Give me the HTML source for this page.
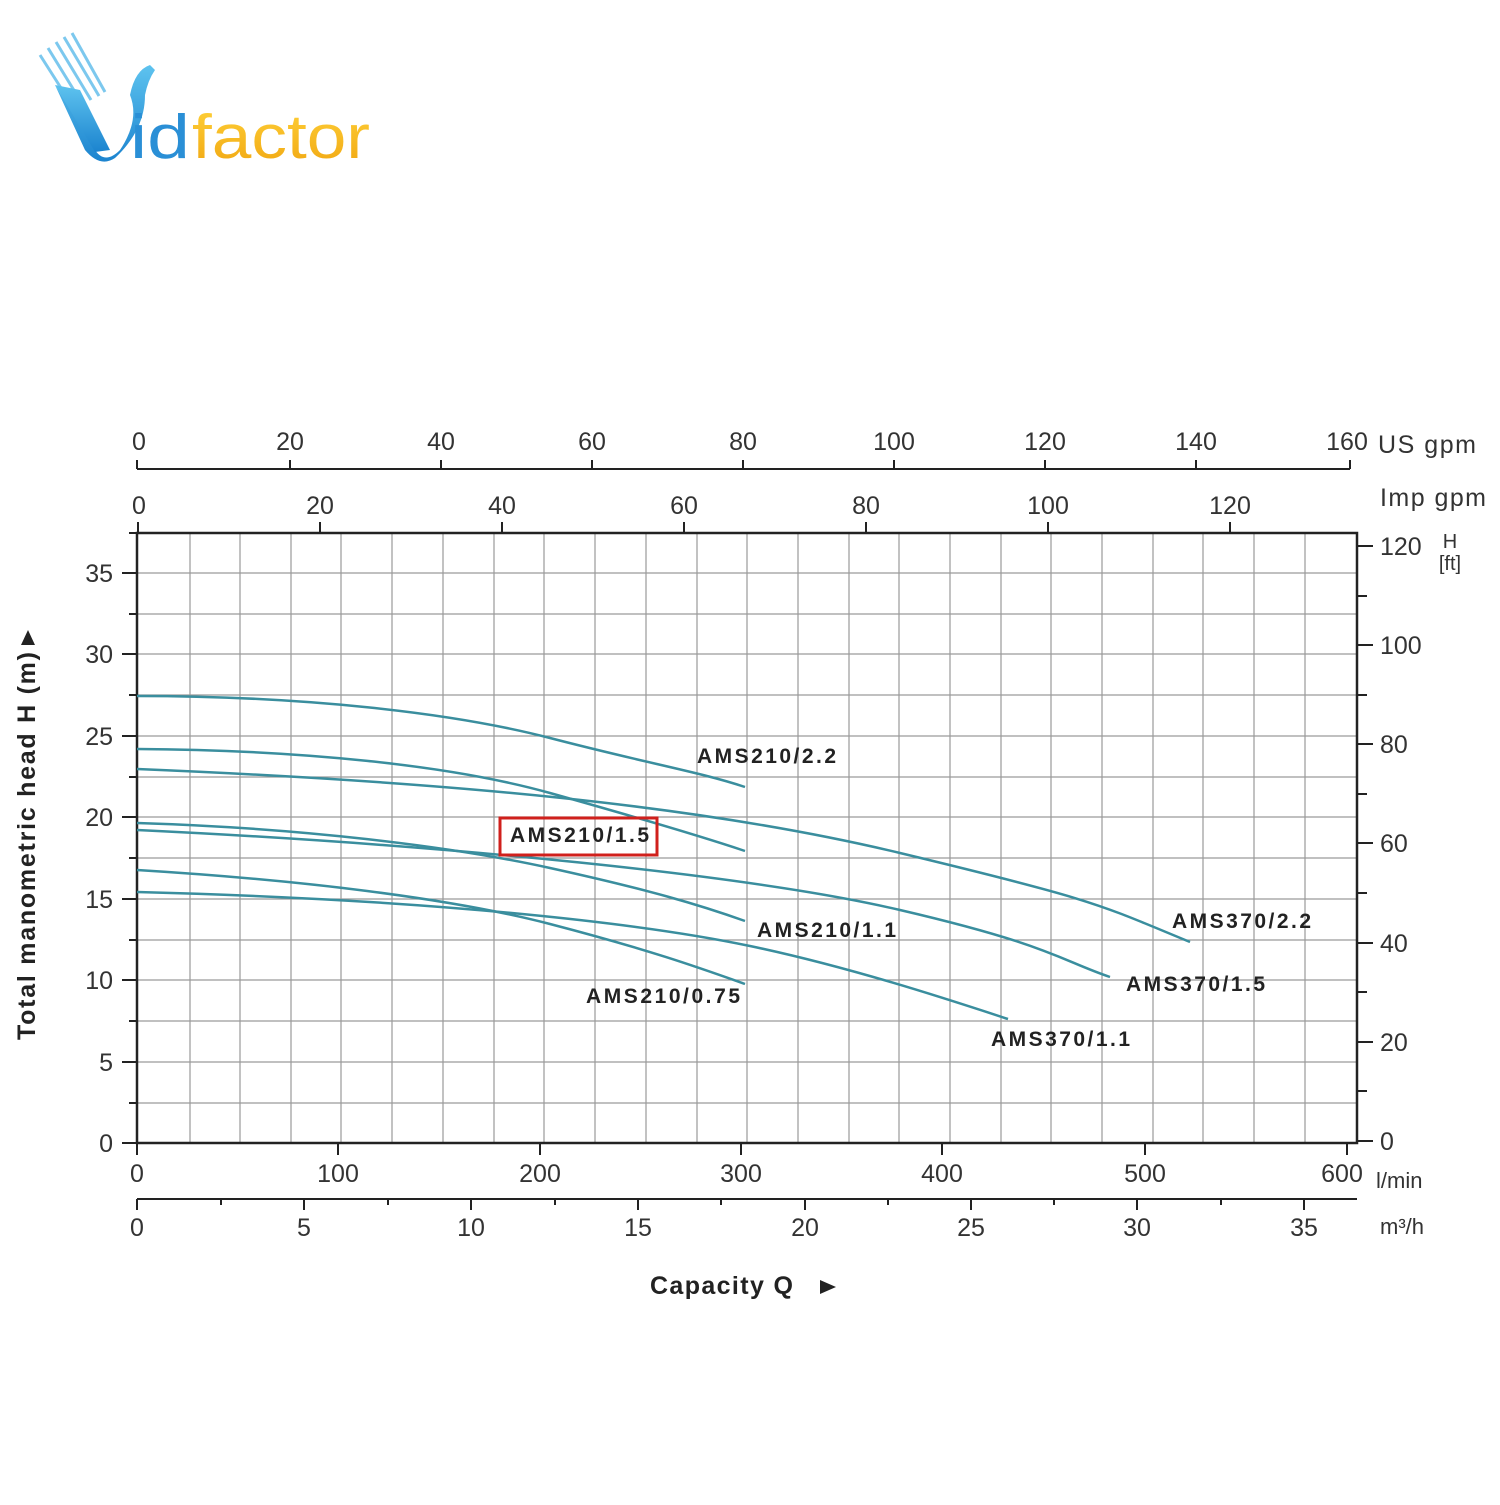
<!DOCTYPE html>
<html><head><meta charset="utf-8"><style>
html,body{margin:0;padding:0;background:#fff;}
svg text{font-family:"Liberation Sans",sans-serif;}
</style></head><body>
<svg width="1500" height="1500" viewBox="0 0 1500 1500" xmlns="http://www.w3.org/2000/svg">
<rect width="1500" height="1500" fill="#fff"/>
<defs><linearGradient id="bl" x1="0" y1="0" x2="0" y2="1"><stop offset="0" stop-color="#5ec3ef"/><stop offset="1" stop-color="#1c84cf"/></linearGradient>
<linearGradient id="yl" x1="0" y1="0" x2="0" y2="1"><stop offset="0" stop-color="#ffd23a"/><stop offset="1" stop-color="#f0a510"/></linearGradient></defs>
<g stroke="#7cc8ee" stroke-width="3">
<line x1="40" y1="55" x2="75" y2="110"/><line x1="48" y1="48" x2="83" y2="105"/><line x1="56" y1="42" x2="91" y2="100"/><line x1="64" y1="37" x2="99" y2="96"/><line x1="72" y1="33" x2="105" y2="92"/>
</g>
<path d="M55 85 L95 150 Q105 165 120 150 Q140 120 130 95 Q135 70 150 65 L155 70 Q148 80 145 95 Q145 130 115 158 Q100 168 85 150 Z" fill="url(#bl)"/>
<path d="M55 85 L80 90 L110 150 L95 152 Z" fill="url(#bl)"/>
<text x="130" y="158" font-size="62" fill="#2a8fd6" textLength="60" lengthAdjust="spacingAndGlyphs">id</text>
<text x="192" y="158" font-size="62" fill="url(#yl)" textLength="178" lengthAdjust="spacingAndGlyphs">factor</text>
<g stroke="#9a9a9a" stroke-width="1.2">
<path d="M190 533V1143M240 533V1143M291 533V1143M341 533V1143M392 533V1143M443 533V1143M494 533V1143M544 533V1143M595 533V1143M646 533V1143M697 533V1143M747 533V1143M798 533V1143M849 533V1143M899 533V1143M950 533V1143M1001 533V1143M1051 533V1143M1102 533V1143M1153 533V1143M1203 533V1143M1254 533V1143M1305 533V1143"/>
<path d="M137 573H1357M137 614H1357M137 654H1357M137 695H1357M137 736H1357M137 777H1357M137 817H1357M137 858H1357M137 899H1357M137 940H1357M137 980H1357M137 1021H1357M137 1062H1357M137 1103H1357"/>
</g>
<rect x="137" y="533" width="1220" height="610" fill="none" stroke="#222" stroke-width="2.5"/>
<g stroke="#222" stroke-width="2">
<path d="M122 573H137M122 654H137M122 736H137M122 817H137M122 899H137M122 980H137M122 1062H137M122 1143H137"/>
<path d="M129 533H137M129 614H137M129 695H137M129 777H137M129 858H137M129 940H137M129 1021H137M129 1103H137"/>
<path d="M1357 546H1373M1357 645H1373M1357 744H1373M1357 843H1373M1357 943H1373M1357 1042H1373M1357 1141H1373"/>
<path d="M1357 596H1367M1357 695H1367M1357 794H1367M1357 893H1367M1357 992H1367M1357 1091H1367"/>
<path d="M137 1143V1155M338 1143V1155M540 1143V1155M741 1143V1155M942 1143V1155M1145 1143V1155M1347 1143V1155"/>
<path d="M138 533V522M320 533V522M502 533V522M684 533V522M866 533V522M1048 533V522M1230 533V522"/>
<path d="M137 469H1350M137 469V460M1350 469V460M290 469V460M441 469V460M592 469V460M743 469V460M894 469V460M1045 469V460M1196 469V460"/>
<path d="M137 1199H1357M137 1199V1210M304 1199V1210M471 1199V1210M638 1199V1210M805 1199V1210M971 1199V1210M1137 1199V1210M1304 1199V1210M221 1199V1205M388 1199V1205M555 1199V1205M721 1199V1205M888 1199V1205M1054 1199V1205M1221 1199V1205"/>
</g>
<g font-size="25" fill="#333">
<g text-anchor="end"><text x="113" y="582">35</text><text x="113" y="663">30</text><text x="113" y="745">25</text><text x="113" y="826">20</text><text x="113" y="908">15</text><text x="113" y="989">10</text><text x="113" y="1071">5</text><text x="113" y="1152">0</text></g>
<text x="1380" y="555">120</text><text x="1380" y="654">100</text><text x="1380" y="753">80</text><text x="1380" y="852">60</text><text x="1380" y="952">40</text><text x="1380" y="1051">20</text><text x="1380" y="1150">0</text>
<g text-anchor="middle">
<text x="137" y="1182">0</text><text x="338" y="1182">100</text><text x="540" y="1182">200</text><text x="741" y="1182">300</text><text x="942" y="1182">400</text><text x="1145" y="1182">500</text><text x="1342" y="1182">600</text>
<text x="137" y="1236">0</text><text x="304" y="1236">5</text><text x="471" y="1236">10</text><text x="638" y="1236">15</text><text x="805" y="1236">20</text><text x="971" y="1236">25</text><text x="1137" y="1236">30</text><text x="1304" y="1236">35</text>
<text x="139" y="514">0</text><text x="320" y="514">20</text><text x="502" y="514">40</text><text x="684" y="514">60</text><text x="866" y="514">80</text><text x="1048" y="514">100</text><text x="1230" y="514">120</text>
<text x="139" y="450">0</text><text x="290" y="450">20</text><text x="441" y="450">40</text><text x="592" y="450">60</text><text x="743" y="450">80</text><text x="894" y="450">100</text><text x="1045" y="450">120</text><text x="1196" y="450">140</text><text x="1347" y="450">160</text>
</g>
<text x="1378" y="453" textLength="98">US gpm</text>
<text x="1380" y="506" textLength="106">Imp gpm</text>
<text x="1376" y="1188" font-size="22">l/min</text>
<text x="1380" y="1234" font-size="22">m³/h</text>
<text x="1450" y="548" font-size="20" text-anchor="middle">H</text>
<text x="1450" y="570" font-size="20" text-anchor="middle">[ft]</text>
</g>
<text x="650" y="1294" font-size="25" font-weight="bold" fill="#222" textLength="143">Capacity Q</text>
<path d="M820 1280 L836 1287 L820 1294 Z" fill="#222"/>
<text transform="translate(35,1040) rotate(-90)" font-size="25" font-weight="bold" fill="#222" textLength="388">Total manometric head H (m)</text>
<path d="M21 645 L28 630 L35 645 Z" fill="#222"/>
<g fill="none" stroke="#3a8e9e" stroke-width="2.5">
<path d="M137 696 C300 696 450 712 550 738 S700 772 745 787"/>
<path d="M137 749 C300 750 450 765 550 793 S700 836 745 851"/>
<path d="M137 769 C450 782 700 805 900 853 S1100 905 1190 942"/>
<path d="M137 823 C300 828 450 846 550 868 S700 905 745 921"/>
<path d="M137 830 C450 845 750 875 900 910 S1060 960 1110 977"/>
<path d="M137 870 C300 880 450 898 550 924 S700 968 745 984"/>
<path d="M137 892 C450 900 650 925 750 946 S950 1000 1008 1019"/>
</g>
<g font-size="21" font-weight="bold" fill="#222" lengthAdjust="spacingAndGlyphs">
<text x="697" y="763" textLength="139">AMS210/2.2</text>
<text x="510" y="842" textLength="139">AMS210/1.5</text>
<text x="1172" y="928" textLength="139">AMS370/2.2</text>
<text x="757" y="937" textLength="139">AMS210/1.1</text>
<text x="1126" y="991" textLength="139">AMS370/1.5</text>
<text x="586" y="1003" textLength="154">AMS210/0.75</text>
<text x="991" y="1046" textLength="139">AMS370/1.1</text>
</g>
<rect x="500" y="818" width="157" height="37" fill="none" stroke="#d0201c" stroke-width="3"/>
</svg>
</body></html>
